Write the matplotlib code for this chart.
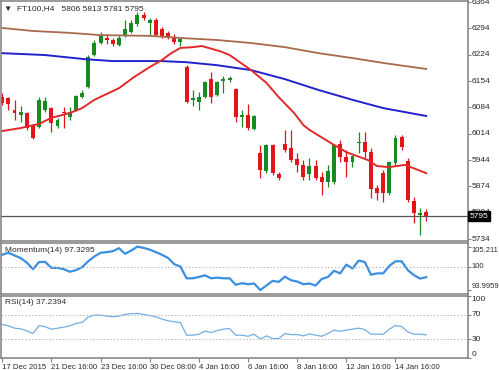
import matplotlib
matplotlib.use("Agg")
import matplotlib.pyplot as plt
import numpy as np

plt.rcParams['font.family'] = ['Liberation Sans', 'DejaVu Sans']

# FT100 H4 candles
opens = [6111, 6109, 6077, 6064, 6069, 6034, 6032, 6077, 6082, 6034,
         6072, 6058, 6077, 6111, 6138, 6223, 6255, 6268, 6263, 6250,
         6276, 6284, 6305, 6329, 6308, 6316, 6292, 6281, 6271, 6258,
         6191, 6103, 6098, 6111, 6159, 6117, 6154, 6157, 6133, 6058,
         6064, 6026, 5963, 5915, 5984, 5907, 5987, 5976, 5947, 5931,
         5907, 5928, 5899, 5886, 5886, 5987, 5952, 5939, 5989, 5992,
         5965, 5870, 5909, 5856, 5936, 6005, 5941, 5835, 5798, 5806]
highs = [6122, 6112, 6103, 6087, 6072, 6040, 6112, 6111, 6085, 6056,
         6085, 6085, 6117, 6130, 6222, 6263, 6284, 6279, 6268, 6276,
         6316, 6316, 6337, 6337, 6321, 6321, 6297, 6287, 6279, 6268,
         6196, 6130, 6125, 6154, 6178, 6154, 6167, 6167, 6135, 6077,
         6093, 6064, 5984, 5986, 5987, 5912, 6024, 6024, 5963, 5944,
         5949, 5944, 5912, 5931, 5987, 5997, 5971, 5957, 6018, 6018,
         5976, 5878, 5917, 5941, 6010, 6010, 5949, 5846, 5816, 5813]
lows = [6090, 6077, 6050, 6045, 6024, 6000, 6029, 6072, 6018, 6029,
        6029, 6050, 6074, 6109, 6135, 6220, 6252, 6252, 6247, 6247,
        6271, 6281, 6300, 6316, 6276, 6274, 6268, 6265, 6252, 6247,
        6095, 6087, 6077, 6109, 6095, 6114, 6122, 6151, 6045, 6032,
        6024, 6024, 5896, 5909, 5904, 5891, 5965, 5939, 5912, 5891,
        5891, 5891, 5851, 5872, 5880, 5939, 5899, 5925, 5963, 5949,
        5843, 5838, 5832, 5851, 5931, 5971, 5832, 5777, 5745, 5781]
closes = [6096, 6093, 6069, 6072, 6029, 6003, 6104, 6101, 6042, 6050,
          6069, 6072, 6114, 6122, 6218, 6255, 6274, 6263, 6252, 6268,
          6292, 6308, 6329, 6321, 6316, 6276, 6274, 6271, 6258, 6266,
          6098, 6109, 6111, 6151, 6111, 6151, 6159, 6162, 6058, 6064,
          6029, 6061, 5917, 5984, 5909, 5896, 5971, 5944, 5931, 5899,
          5928, 5896, 5886, 5915, 5984, 5952, 5939, 5955, 5992, 5965,
          5867, 5856, 5856, 5939, 6003, 5979, 5838, 5803, 5803, 5795]

# moving averages
ma_red_bars = [0, 3, 6, 8, 11, 13, 15, 19, 21.5, 24, 26, 27.5, 29, 31, 32.5, 34,
               35.5, 37, 40.5, 43, 45, 47.5, 49, 50, 53.5, 56, 59.5, 61, 63, 65.5, 66.5, 69]
ma_red_vals = [6021, 6029, 6040, 6056, 6069, 6082, 6104, 6135, 6165, 6191, 6210, 6228,
               6242, 6244, 6247, 6240, 6233, 6223, 6183, 6149, 6111, 6069, 6037, 6024,
               5989, 5965, 5944, 5928, 5925, 5931, 5925, 5909]
ma_blue_bars = [0, 7, 13.5, 18, 26, 30, 35, 40.5, 46, 51.5, 57, 62, 69]
ma_blue_vals = [6228, 6223, 6212, 6207, 6207, 6204, 6196, 6183, 6159, 6130, 6104, 6082, 6061]
ma_brown_bars = [0, 5, 11, 16, 24, 29.5, 35, 40.5, 46, 51.5, 57, 62, 69]
ma_brown_vals = [6295, 6287, 6282, 6276, 6274, 6268, 6263, 6255, 6244, 6228, 6215, 6202, 6186]

momentum = [103.10, 103.61, 102.93, 102.26, 101.08, 99.39, 101.25, 101.25, 99.73, 99.73,
            99.39, 98.72, 99.14, 99.90, 101.42, 102.68, 103.61, 103.78, 104.03, 104.79,
            103.36, 104.20, 105.211, 104.87, 104.45, 103.78, 103.10, 102.26, 100.66, 100.07,
            97.03, 97.03, 97.37, 97.79, 97.03, 97.20, 97.03, 97.03, 95.35, 95.77,
            95.51, 95.68, 93.9959, 95.18, 96.36, 96.11, 97.45, 96.53, 96.19, 95.51,
            95.68, 95.18, 96.86, 97.37, 98.97, 98.30, 100.57, 99.56, 101.59, 101.25,
            97.96, 98.30, 98.30, 100.24, 101.42, 101.42, 99.14, 97.87, 96.95, 97.3295]
rsi = [54.1, 51.9, 48.1, 47.0, 43.8, 39.5, 52.4, 50.3, 46.5, 48.1,
       49.7, 51.9, 55.7, 57.3, 65.9, 69.2, 69.2, 67.6, 66.5, 67.6,
       70.3, 71.4, 71.9, 70.3, 68.6, 66.5, 62.7, 60.0, 58.4, 57.3,
       36.8, 36.8, 38.4, 43.2, 41.1, 44.3, 46.5, 47.6, 36.8, 36.8,
       35.1, 38.4, 30.3, 35.7, 31.4, 31.4, 39.5, 37.8, 37.8, 35.7,
       38.9, 36.8, 35.1, 39.5, 44.9, 43.2, 44.9, 46.5, 48.1, 45.9,
       38.4, 38.4, 38.4, 46.5, 52.4, 50.8, 42.2, 38.4, 38.4, 37.2394]

price_ticks = [5734, 5804, 5874, 5944, 6014, 6084, 6154, 6224, 6294, 6364]
time_tick_bars = [0, 8, 16, 24, 32, 40, 48, 56, 64]
time_tick_labels = ['17 Dec 2015', '21 Dec 16:00', '23 Dec 16:00', '30 Dec 08:00', '4 Jan 16:00',
                    '6 Jan 16:00', '8 Jan 16:00', '12 Jan 16:00', '14 Jan 16:00']

GREEN = '#178a22'
RED = '#e3151b'
BORDER = '#7f7f7f'
TXT = '#2b2b2b'
FS = 6.0

W, H = 499, 370
fig = plt.figure(figsize=(W / 100, H / 100), dpi=100)


def px_axes(x0, y0, x1, y1):
    # axes placed by pixel box (top-left origin)
    return fig.add_axes([x0 / W, 1 - y1 / H, (x1 - x0) / W, (y1 - y0) / H])


def style(a, yticks, ylabels, vas, size=FS):
    for s in a.spines.values():
        s.set_color(BORDER)
        s.set_linewidth(1.1)
    a.set_xlim(-0.2, 75.8)
    a.tick_params(axis='y', left=False, right=True, labelleft=False, labelright=True,
                  length=1.8, width=0.8, pad=0.8, color=BORDER, labelsize=size, labelcolor=TXT)
    a.tick_params(axis='x', bottom=False, labelbottom=False)
    a.set_yticks(yticks)
    a.set_yticklabels(ylabels)
    for lab, va in zip(a.get_yticklabels(), vas):
        lab.set_verticalalignment(va)


ax = px_axes(1, 1, 468, 241)
ax_mom = px_axes(1, 243, 468, 294)
ax_rsi = px_axes(1, 296, 468, 358)

# --- price panel
o = np.array(opens)
h = np.array(highs)
l = np.array(lows)
c = np.array(closes)
x = np.arange(len(o))
cols = np.where(c >= o, GREEN, RED)
ax.vlines(x, l, h, colors=cols, linewidth=0.9)
ax.bar(x, np.maximum(np.abs(c - o), 1.5), bottom=np.minimum(o, c), width=0.64,
       color=cols, linewidth=0)
ax.plot(ma_brown_bars, ma_brown_vals, color='#a86a4c', lw=1.3)
ax.plot(ma_blue_bars, ma_blue_vals, color='#2222cc', lw=1.4)
ax.plot(ma_red_bars, ma_red_vals, color='#e02a2a', lw=1.4)
ax.axhline(closes[-1], color='#555555', lw=0.9)
ax.set_ylim(5728.7, 6366.7)
style(ax, price_ticks, [str(p) for p in price_ticks], ['center'] * len(price_ticks))
ax.text(1.004, closes[-1], str(closes[-1]), transform=ax.get_yaxis_transform(),
        color='white', fontsize=FS, va='center', ha='left', clip_on=False,
        bbox=dict(boxstyle='square,pad=0.2', fc='black', ec='black'))
ax.text(0.006, 0.985, '\u25bc  FT100,H4   5806 5813 5781 5795', transform=ax.transAxes,
        fontsize=FS, color=TXT, va='top', ha='left')

# --- momentum panel
ax_mom.plot(x, momentum, color='#3a8fe0', lw=1.6)
ax_mom.axhline(100, color='#b8b8b8', lw=0.7, ls=(0, (1.5, 2)))
ax_mom.set_ylim(92.98, 106.14)
style(ax_mom, [93.9959, 100, 105.211], ['93.9959', '100', '105.211'],
      ['bottom', 'center', 'top'], size=5.5)
ax_mom.text(0.008, 0.93, 'Momentum(14) 97.3295', transform=ax_mom.transAxes,
            fontsize=FS, color=TXT, va='top', ha='left')

# --- rsi panel
ax_rsi.plot(x, rsi, color='#72aee6', lw=0.9)
for lvl in (30, 70):
    ax_rsi.axhline(lvl, color='#b8b8b8', lw=0.7, ls=(0, (1.5, 2)))
ax_rsi.set_ylim(0, 100)
style(ax_rsi, [0, 30, 70, 100], ['0', '30', '70', '100'], ['bottom', 'center', 'center', 'top'])
ax_rsi.text(0.008, 0.95, 'RSI(14) 37.2394', transform=ax_rsi.transAxes,
            fontsize=FS, color=TXT, va='top', ha='left')
ax_rsi.tick_params(axis='x', bottom=True, labelbottom=True, length=3, width=0.8,
                   color=BORDER, labelsize=5.6, labelcolor=TXT, pad=1)
ax_rsi.set_xticks(time_tick_bars)
ax_rsi.set_xticklabels(time_tick_labels, ha='left')

fig.savefig('out.png', dpi=100, facecolor='white')
